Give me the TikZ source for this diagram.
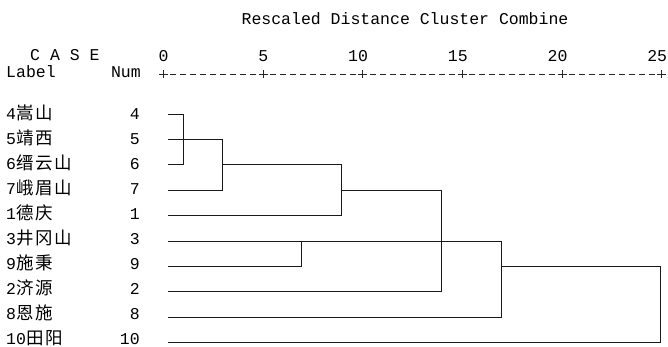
\documentclass[tikz,border=0pt]{standalone}
\usepackage{fontspec}
\newfontfamily\mono{Liberation Mono}
\newfontfamily\cjk[LetterSpace=10]{Noto Sans CJK SC}
\begin{document}
\begin{tikzpicture}[x=1pt,y=-1pt,
  txt/.style={inner sep=0pt, font=\fontsize{16.5}{18}\mono},
  branch/.style={line width=1pt, black!90, line join=miter},
  axisline/.style={line width=0.9pt, black!85}]
\useasboundingbox (0,0) rectangle (668,347);

% headings
\node[txt, anchor=base] (title) at (405,25) {Rescaled Distance Cluster Combine};
\node[txt, anchor=base west] (case) at (30,61) {C A S E};
\node[txt, anchor=base west] (lab) at (6,78) {Label};
\node[txt, anchor=base east] (num) at (141,78) {Num};

% scale: ticks every 5 units
\foreach \k/\v in {0/0,1/5,2/10,3/15,4/20,5/25}{
  \pgfmathsetmacro{\tx}{163.3+99.7*\k}
  \node[txt, anchor=base east] (tick\k) at (\tx+5.5,62) {\v};
  \draw[axisline] (\tx-4.5,74) -- (\tx+4.5,74) (\tx,70) -- (\tx,78);
}
\foreach \k in {0,...,4}{
  \foreach \j in {1,...,9}{
    \pgfmathsetmacro{\cx}{163.3+99.7*\k+9.97*\j}
    \draw[axisline] (\cx-3,74) -- (\cx+3,74);
  }
}

% case rows: index / number / name / height of the branch
\foreach \i/\n/\name/\y in {0/4/嵩山/114.3, 1/5/靖西/139.7, 2/6/缙云山/165, 3/7/峨眉山/190.4,
                         4/1/德庆/215.7, 5/3/井冈山/241.1, 6/9/施秉/266.4, 7/2/济源/291.8,
                         8/8/恩施/317.1, 9/10/田阳/342.5}{
  \pgfmathsetmacro{\by}{119.5+25*\i}
  \node[txt, anchor=base west] (l\n) at (6,\by) {\n{\cjk\fontsize{17.5}{18}\selectfont\name}};
  \node[txt, anchor=base east] (n\n) at (140,\by) {\n};
  \coordinate (s\n) at (168,\y);
}

% join points of the dendrogram
\coordinate (j46top) at (183,114.3);
\coordinate (j46bot) at (183,165);
\coordinate (j57top) at (222.7,139.7);
\coordinate (j57mid) at (222.7,165);
\coordinate (j57bot) at (222.7,190.4);
\coordinate (j1top) at (341.7,165);
\coordinate (j1mid) at (341.7,190.4);
\coordinate (j1bot) at (341.7,215.7);
\coordinate (j2top) at (441.7,190.4);
\coordinate (j2bot) at (441.7,291.8);
\coordinate (j9top) at (301.7,241.1);
\coordinate (j9bot) at (301.7,266.4);
\coordinate (j8top) at (501.7,241.1);
\coordinate (j8mid) at (501.7,266.4);
\coordinate (j8bot) at (501.7,317.1);
\coordinate (j10top) at (660,266.4);
\coordinate (j10bot) at (660,342.5);

% branches
\draw[branch] (s4) -- (j46top) -- (j46bot) -- (s6);
\draw[branch] (s5) -- (j57top) -- (j57bot) -- (s7);
\draw[branch] (j57mid) -- (j1top) -- (j1bot) -- (s1);
\draw[branch] (j1mid) -- (j2top) -- (j2bot) -- (s2);
\draw[branch] (s3) -- (j8top) -- (j8bot) -- (s8);
\draw[branch] (j9top) -- (j9bot) -- (s9);
\draw[branch] (j8mid) -- (j10top) -- (j10bot) -- (s10);
\end{tikzpicture}
\end{document}
